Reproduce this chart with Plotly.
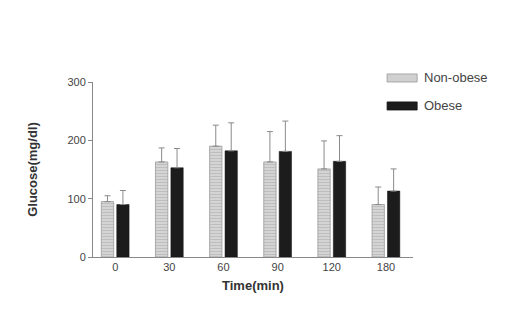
import plotly.graph_objects as go

times = ["0", "30", "60", "90", "120", "180"]
non_obese = [95, 163, 190, 163, 151, 90]
non_obese_sd = [10, 24, 36, 52, 48, 30]
obese = [90, 153, 182, 181, 164, 113]
obese_sd = [24, 33, 48, 52, 44, 38]
y_ticks = [0, 100, 200, 300]
series_names = ["Non-obese", "Obese"]

xs = list(range(len(times)))

fig = go.Figure()
fig.add_trace(go.Bar(
    x=xs, y=non_obese, name=series_names[0],
    marker=dict(color="#d4d4d4", line=dict(color="#9a9a9a", width=0.8),
                pattern=dict(shape="-", fgcolor="#a8a8a8", size=3, solidity=0.35)),
    error_y=dict(type="data", array=non_obese_sd, arrayminus=[0]*len(times),
                 symmetric=False, color="#8a8a8a", thickness=1, width=3),
))
fig.add_trace(go.Bar(
    x=xs, y=obese, name=series_names[1],
    marker=dict(color="#1c1c1c", line=dict(color="#111111", width=0.5)),
    error_y=dict(type="data", array=obese_sd, arrayminus=[0]*len(times),
                 symmetric=False, color="#8a8a8a", thickness=1, width=3),
))

# custom legend with wide swatches (paper coordinates)
legend_fill = ["#d0d0d0", "#1c1c1c"]
legend_line = ["#9a9a9a", "#111111"]
legend_y = [1.023, 0.863]
for name, fc, lc, yc in zip(series_names, legend_fill, legend_line, legend_y):
    fig.add_shape(type="rect", xref="paper", yref="paper",
                  x0=0.919, x1=1.013, y0=yc - 0.023, y1=yc + 0.023,
                  fillcolor=fc, line=dict(color=lc, width=0.8))
    fig.add_annotation(xref="paper", yref="paper", x=1.028, y=yc,
                       xanchor="left", yanchor="middle", showarrow=False,
                       text=name, font=dict(size=13, color="#444444"))

fig.update_layout(
    width=531, height=323,
    margin=dict(l=93, r=118, t=82, b=66),
    paper_bgcolor="white", plot_bgcolor="white",
    barmode="group", bargap=0.43, bargroupgap=0.2,
    font=dict(family="Liberation Sans, Arial, sans-serif", color="#333333", size=11),
    showlegend=False,
    xaxis=dict(range=[-0.41, 5.5], tickmode="array", tickvals=xs, ticktext=times,
               showline=True, linecolor="#888888", linewidth=1, ticks="",
               showgrid=False, zeroline=False, tickfont=dict(size=11, color="#444444"),
               title=dict(text="<b>Time(min)</b>", font=dict(size=13, color="#333333"), standoff=8)),
    yaxis=dict(range=[0, 300], tickmode="array", tickvals=y_ticks,
               showline=True, linecolor="#888888", linewidth=1, ticks="outside",
               ticklen=4, tickcolor="#888888", showgrid=False, zeroline=False,
               tickfont=dict(size=11, color="#444444"),
               title=dict(text="<b>Glucose(mg/dl)</b>", font=dict(size=13, color="#333333"), standoff=26)),
)

fig.write_html("out.html")
